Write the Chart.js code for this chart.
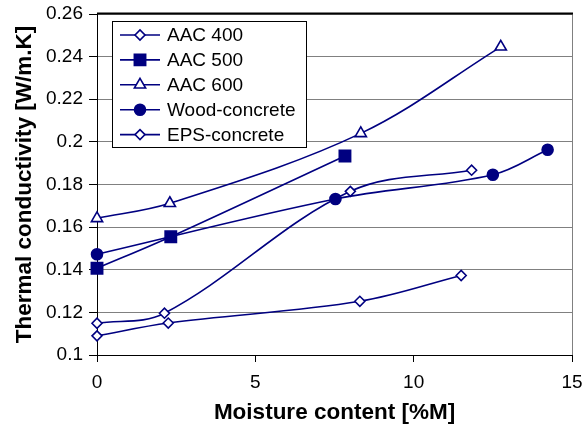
<!DOCTYPE html>
<html>
<head>
<meta charset="utf-8">
<script src="https://cdn.jsdelivr.net/npm/chart.js@4/dist/chart.umd.min.js"></script>
<style>
html,body{margin:0;padding:0;background:#fff;}
#wrap{width:584px;height:434px;}
</style>
</head>
<body>
<div id="wrap"><canvas id="c" width="584" height="434"></canvas></div>
<script>
// ---- data ----
const seriesNames = ['AAC 400', 'AAC 500', 'AAC 600', 'Wood-concrete', 'EPS-concrete'];
const aac400X = [0, 2.25, 8.3, 11.5];
const aac400Y = [0.109, 0.115, 0.1252, 0.1373];
const aac500X = [0, 2.33, 7.83];
const aac500Y = [0.1407, 0.1555, 0.1934];
const aac600X = [0, 2.3, 8.33, 12.75];
const aac600Y = [0.1641, 0.1712, 0.204, 0.2446];
const woodX = [0, 7.53, 12.5, 14.23];
const woodY = [0.1473, 0.1732, 0.1846, 0.1963];
const epsX = [0, 2.13, 8.0, 11.83];
const epsY = [0.1149, 0.1196, 0.1768, 0.1867];
const yTicks = [0.1, 0.12, 0.14, 0.16, 0.18, 0.2, 0.22, 0.24, 0.26];
const xTicks = [0, 5, 10, 15];

const NAVY = '#000080';
function pts(xs, ys){ return xs.map((x,i)=>({x:x, y:ys[i]})); }

const styles = [
  {pointStyle:'rectRot', radius:5, fill:'#ffffff'},
  {pointStyle:'rect', radius:8, fill:NAVY},
  {pointStyle:'triangle', radius:6.5, fill:'#ffffff'},
  {pointStyle:'circle', radius:5.5, fill:NAVY},
  {pointStyle:'rectRot', radius:5, fill:'#ffffff'}
];
const dataSets = [pts(aac400X,aac400Y), pts(aac500X,aac500Y), pts(aac600X,aac600Y), pts(woodX,woodY), pts(epsX,epsY)];

const datasets = dataSets.map((d,i)=>({
  label: seriesNames[i],
  data: d,
  clip: false,
  borderColor: NAVY,
  borderWidth: 1.6,
  backgroundColor: styles[i].fill,
  pointStyle: styles[i].pointStyle,
  pointRadius: styles[i].radius,
  pointBackgroundColor: styles[i].fill,
  pointBorderColor: NAVY,
  pointBorderWidth: 1.6,
  tension: 0.35,
  fill: false
}));

const frameAndLegend = {
  id: 'frameAndLegend',
  beforeDatasetsDraw(chart){
    const ctx = chart.ctx;
    const a = chart.chartArea;
    ctx.save();
    // right border (grey)
    ctx.strokeStyle = '#808080';
    ctx.lineWidth = 1;
    ctx.beginPath();
    ctx.moveTo(a.right + 0.5, a.top);
    ctx.lineTo(a.right + 0.5, a.bottom);
    ctx.stroke();
    // top border (black, thick)
    ctx.strokeStyle = '#000';
    ctx.lineWidth = 2;
    ctx.beginPath();
    ctx.moveTo(a.left, a.top - 0.5);
    ctx.lineTo(a.right + 1, a.top - 0.5);
    ctx.stroke();
    ctx.restore();
  },
  afterDatasetsDraw(chart){
    const ctx = chart.ctx;
    ctx.save();
    // legend box
    const bx = 112.5, by = 21.5, bw = 194, bh = 126;
    ctx.fillStyle = '#fff';
    ctx.fillRect(bx, by, bw, bh);
    ctx.strokeStyle = '#000';
    ctx.lineWidth = 1;
    ctx.strokeRect(bx, by, bw, bh);
    ctx.font = '19px "Liberation Sans", Arial, sans-serif';
    ctx.textBaseline = 'middle';
    ctx.textAlign = 'left';
    seriesNames.forEach((name, i) => {
      const y = 35 + i * 24.9;
      ctx.strokeStyle = NAVY;
      ctx.lineWidth = 1.6;
      ctx.beginPath();
      ctx.moveTo(120, y);
      ctx.lineTo(160, y);
      ctx.stroke();
      ctx.fillStyle = styles[i].fill;
      ctx.strokeStyle = NAVY;
      ctx.lineWidth = 1.6;
      Chart.helpers.drawPoint(ctx, {pointStyle: styles[i].pointStyle, radius: styles[i].radius, rotation: 0, borderWidth: 1.6}, 140, y);
      ctx.fillStyle = '#000';
      ctx.fillText(name, 167, y + 1);
    });
    ctx.restore();
  }
};

new Chart(document.getElementById('c'), {
  type: 'line',
  data: { datasets: datasets },
  plugins: [frameAndLegend],
  options: {
    responsive: false,
    animation: false,
    devicePixelRatio: 1,
    layout: { padding: { left: 11, right: 12, top: 14, bottom: 8 } },
    plugins: { legend: { display: false }, tooltip: { enabled: false } },
    scales: {
      x: {
        type: 'linear',
        min: 0, max: 15,
        afterBuildTicks(scale){ scale.ticks = xTicks.map(v=>({value:v})); },
        afterFit(scale){ scale.height = 71; scale.paddingLeft = 0; scale.paddingRight = 0; },
        ticks: { color: '#000', padding: 9, font: { family: '"Liberation Sans", Arial, sans-serif', size: 19 } },
        grid: { drawOnChartArea: false, tickLength: 7, tickColor: '#000', tickWidth: 1 },
        border: { color: '#000', width: 1 },
        title: { display: true, text: 'Moisture content [%M]', color: '#000', padding: 0,
                 font: { family: '"Liberation Sans", Arial, sans-serif', size: 22.5, weight: 'bold' } }
      },
      y: {
        type: 'linear',
        min: 0.1, max: 0.26,
        afterBuildTicks(scale){ scale.ticks = yTicks.map(v=>({value:v})); },
        afterFit(scale){ scale.width = 86; scale.paddingTop = 0; scale.paddingBottom = 0; },
        ticks: { color: '#000', padding: 6,
                 callback: v => String(+v.toFixed(2)),
                 font: { family: '"Liberation Sans", Arial, sans-serif', size: 19 } },
        grid: { color: '#808080', lineWidth: 1, tickLength: 8, tickColor: '#000' },
        border: { color: '#000', width: 1 },
        title: { display: true, text: 'Thermal conductivity [W/m.K]', color: '#000', padding: 0,
                 font: { family: '"Liberation Sans", Arial, sans-serif', size: 22.5, weight: 'bold' } }
      }
    }
  }
});
</script>
</body>
</html>
